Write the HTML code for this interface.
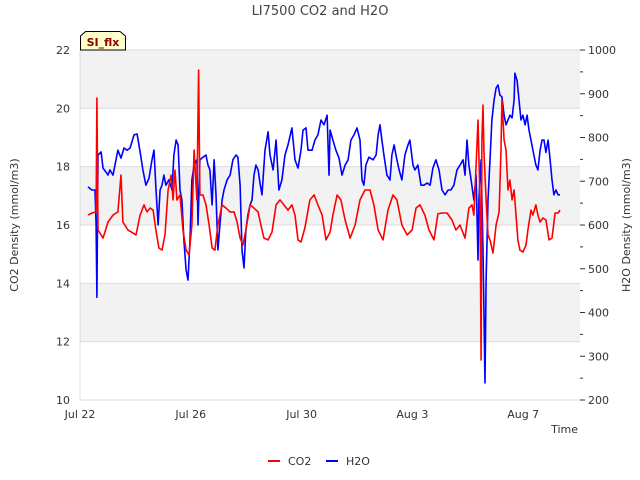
<!DOCTYPE html>
<html><head><meta charset="utf-8"><style>
body{margin:0;background:#fff;}
svg{display:block;font-family:"DejaVu Sans","Liberation Sans",sans-serif;}
</style></head><body>
<svg id="chart" width="640" height="480">
<g id="bands"></g>
<g id="grid"></g>
<text x="320" y="15" text-anchor="middle" font-size="13" fill="#444">LI7500 CO2 and H2O</text>
<g id="yl"></g><g id="yr"></g><g id="xt"></g>
<text transform="translate(18,225) rotate(-90)" text-anchor="middle" font-size="11" fill="#333">CO2 Density (mmol/m3)</text>
<text transform="translate(630,225) rotate(-90)" text-anchor="middle" font-size="11" fill="#333">H2O Density (mmol/m3)</text>
<text x="578" y="433" text-anchor="end" font-size="11" fill="#333">Time</text>
<g id="series"></g>
<g>
<path d="M80.5,50 L80.5,36 L85.5,31.5 L120,31.5 L125.5,36 L125.5,50 Z" fill="#ffffcc" stroke="#000" stroke-width="1"/>
<text x="103" y="46" text-anchor="middle" font-size="11" font-weight="bold" fill="#8b0000">SI_flx</text>
</g>
<g>
<g><line x1="268" y1="461" x2="280" y2="461" stroke="#ff0000" stroke-width="2"/><text x="288" y="465" font-size="11" fill="#333">CO2</text></g>
<g><line x1="326" y1="461" x2="338" y2="461" stroke="#0000ff" stroke-width="2"/><text x="346" y="465" font-size="11" fill="#333">H2O</text></g>
</g>
</svg>
<script>
const leftTicks=[10,12,14,16,18,20,22];
const rightTicks=[200,300,400,500,600,700,800,900,1000];
const xTickDays=[0,4,8,12,16];
const xTickLabels=["Jul 22","Jul 26","Jul 30","Aug 3","Aug 7"];
const co2T=[0.29,0.43,0.58,0.61,0.65,0.83,1.01,1.19,1.37,1.48,1.55,1.73,1.91,2.02,2.17,2.31,2.42,2.53,2.64,2.74,2.85,2.96,3.07,3.18,3.29,3.36,3.43,3.50,3.61,3.72,3.83,3.94,4.04,4.12,4.22,4.28,4.33,4.44,4.55,4.66,4.77,4.87,4.98,5.13,5.27,5.42,5.56,5.67,5.78,5.88,5.99,6.14,6.28,6.43,6.53,6.64,6.79,6.93,7.08,7.22,7.36,7.51,7.65,7.76,7.87,7.98,8.12,8.30,8.45,8.59,8.74,8.88,9.03,9.13,9.28,9.42,9.57,9.75,9.93,10.11,10.29,10.47,10.61,10.76,10.94,11.12,11.30,11.44,11.62,11.81,11.99,12.13,12.27,12.45,12.60,12.78,12.92,13.07,13.25,13.43,13.57,13.72,13.90,14.04,14.15,14.22,14.30,14.37,14.44,14.48,14.51,14.55,14.58,14.66,14.73,14.80,14.91,15.02,15.13,15.20,15.23,15.31,15.38,15.45,15.52,15.60,15.67,15.74,15.81,15.88,15.99,16.10,16.17,16.28,16.35,16.46,16.53,16.61,16.71,16.82,16.93,17.04,17.15,17.26,17.33];
const co2V=[16.34,16.41,16.45,20.35,15.83,15.55,16.10,16.34,16.45,17.71,16.10,15.83,15.73,15.66,16.34,16.69,16.45,16.58,16.51,15.83,15.21,15.14,15.66,17.20,17.71,16.86,17.88,16.86,17.03,15.83,15.14,14.97,16.00,18.57,16.86,21.31,17.03,17.03,16.69,16.00,15.21,15.14,16.00,16.69,16.58,16.45,16.45,16.10,15.55,15.31,15.83,16.69,16.58,16.45,16.00,15.55,15.49,15.76,16.69,16.86,16.69,16.51,16.69,16.34,15.49,15.42,15.90,16.86,17.03,16.69,16.34,15.49,15.76,16.34,17.03,16.86,16.17,15.55,16.00,16.86,17.20,17.20,16.69,15.83,15.49,16.51,17.03,16.86,16.00,15.66,15.83,16.58,16.69,16.34,15.83,15.49,16.38,16.41,16.41,16.17,15.83,16.00,15.55,16.58,16.69,16.34,18.06,19.60,16.86,11.37,18.91,20.11,18.57,16.86,15.66,15.49,15.04,16.00,16.45,18.57,20.28,18.91,18.57,17.20,17.54,16.86,17.20,16.34,15.49,15.14,15.07,15.31,15.83,16.51,16.34,16.69,16.34,16.10,16.24,16.17,15.49,15.55,16.41,16.41,16.51];
const h2oT=[0.29,0.43,0.54,0.58,0.61,0.65,0.76,0.83,0.94,1.01,1.08,1.19,1.30,1.37,1.48,1.59,1.70,1.81,1.95,2.06,2.17,2.27,2.38,2.49,2.60,2.67,2.74,2.82,2.89,2.96,3.03,3.10,3.21,3.32,3.39,3.47,3.54,3.61,3.68,3.75,3.83,3.90,3.97,4.04,4.12,4.22,4.26,4.33,4.44,4.55,4.62,4.69,4.77,4.84,4.91,4.98,5.05,5.13,5.20,5.31,5.42,5.52,5.63,5.70,5.78,5.85,5.92,5.99,6.06,6.14,6.21,6.28,6.35,6.43,6.50,6.57,6.68,6.79,6.86,6.97,7.08,7.18,7.29,7.40,7.51,7.65,7.76,7.87,7.98,8.05,8.16,8.23,8.38,8.48,8.59,8.70,8.81,8.92,8.99,9.03,9.13,9.24,9.35,9.46,9.57,9.68,9.78,9.89,10.00,10.11,10.18,10.25,10.32,10.43,10.58,10.69,10.76,10.83,10.90,10.97,11.08,11.19,11.26,11.34,11.44,11.52,11.62,11.73,11.84,11.91,12.02,12.09,12.20,12.31,12.42,12.53,12.64,12.74,12.85,12.96,13.07,13.18,13.29,13.39,13.50,13.61,13.72,13.83,13.90,13.97,14.04,14.12,14.22,14.30,14.37,14.40,14.48,14.55,14.62,14.66,14.73,14.80,14.87,14.95,15.02,15.09,15.16,15.23,15.31,15.38,15.45,15.52,15.60,15.67,15.70,15.78,15.85,15.92,15.99,16.07,16.14,16.21,16.28,16.35,16.46,16.53,16.61,16.68,16.75,16.82,16.90,16.97,17.04,17.11,17.18,17.26,17.33];
const h2oV=[687,680,680,600,435,760,767,730,721,714,726,714,749,771,753,776,771,776,806,808,767,726,691,707,749,771,685,600,680,691,714,691,703,680,760,794,783,680,657,566,497,474,566,703,737,749,600,749,755,760,737,726,646,749,669,543,600,657,680,703,714,749,760,755,691,543,502,589,623,646,657,714,737,726,696,669,771,813,760,726,794,680,703,760,783,822,749,730,771,817,822,771,771,794,806,840,829,851,714,817,794,771,753,714,737,749,794,806,822,794,703,691,737,755,749,760,806,829,794,760,714,703,760,783,749,726,703,760,783,794,737,726,737,691,691,696,691,730,749,726,680,669,680,680,691,726,737,749,714,794,737,703,657,714,520,657,749,543,239,474,657,749,840,886,913,920,897,893,851,829,840,851,845,886,947,930,886,840,851,829,851,817,794,771,737,726,771,794,794,766,794,749,703,669,680,669,669];

const X0=80,X1=580,Y0=50,Y1=400,PXDAY=27.7;
const xs=d=>X0+d*PXDAY;
const yl=v=>Y1-(v-10)/12*(Y1-Y0);
const yr=v=>Y1-(v-200)/800*(Y1-Y0);
const NS="http://www.w3.org/2000/svg";
function mk(tag,attrs,parent){const e=document.createElementNS(NS,tag);for(const k in attrs)e.setAttribute(k,attrs[k]);parent.appendChild(e);return e;}
const bands=document.getElementById('bands'),grid=document.getElementById('grid');
for(let i=0;i<leftTicks.length-1;i++){
  if(i%2===1){const r=mk('rect',{x:X0,y:yl(leftTicks[i+1]),width:X1-X0,height:yl(leftTicks[i])-yl(leftTicks[i+1]),fill:'#f2f2f2'},bands);
  
  }
}
const gl=document.getElementById('yl');
leftTicks.forEach(v=>{
  const l=mk('line',{x1:X0,x2:X1,y1:yl(v),y2:yl(v),stroke:'#dcdcdc','stroke-width':1},grid);
  
  
  const t=mk('text',{x:70,y:yl(v)+4,'text-anchor':'end','font-size':11,fill:'#333'},gl);t.textContent=v;
  
  
});
const ax=mk('line',{x1:X0,x2:X0,y1:Y0,y2:Y1,stroke:'#dcdcdc'},grid);


const gr=document.getElementById('yr');
rightTicks.forEach((v,i)=>{
  const t=mk('text',{x:588,y:yr(v)+4,'font-size':11,fill:'#333'},gr);t.textContent=v;
  
  
  mk('line',{x1:X1,x2:X1+5,y1:yr(v),y2:yr(v),stroke:'#333'},gr);
  if(i<rightTicks.length-1)mk('line',{x1:X1,x2:X1+3,y1:yr(v+50),y2:yr(v+50),stroke:'#333'},gr);
});
const gx=document.getElementById('xt');
xTickDays.forEach((d,i)=>{
  const t=mk('text',{x:xs(d),y:418,'text-anchor':'middle','font-size':11,fill:'#333'},gx);t.textContent=xTickLabels[i];
  
  
});
const ser=document.getElementById('series');
function line(T,V,f,col,name){
  const p=mk('polyline',{points:T.map((t,i)=>xs(t).toFixed(1)+','+f(V[i]).toFixed(1)).join(' '),fill:'none',stroke:col,'stroke-width':1.6,'stroke-linejoin':'round'},ser);
  
  
}
line(h2oT,h2oV,yr,'#0000ff','h2o-line');
line(co2T,co2V,yl,'#ff0000','co2-line');
</script>
</body></html>
